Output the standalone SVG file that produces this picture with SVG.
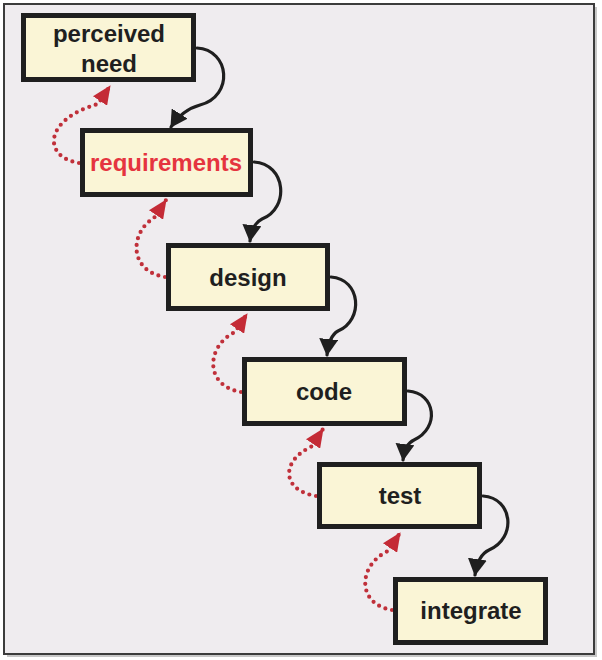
<svg xmlns="http://www.w3.org/2000/svg" width="602" height="660" viewBox="0 0 602 660">
  <style>
    .box { fill: #faf5d6; stroke: #1f1f1f; stroke-width: 5; }
    .lbl { font-family: "Liberation Sans", "DejaVu Sans", sans-serif; font-weight: bold; font-size: 24px; fill: #1f1f1f; text-anchor: middle; }
    .red { fill: #e5343f; }
    .fwd { fill: none; stroke: #1f1f1f; stroke-width: 3.2; stroke-linecap: round; marker-end: url(#blackHead); }
    .back { fill: none; stroke: #c0303a; stroke-width: 4.2; stroke-linecap: round; stroke-dasharray: 0 6.8; marker-end: url(#redHead); }
  </style>
  <defs>
    <marker id="blackHead" markerUnits="userSpaceOnUse" viewBox="0 0 17 19" refX="16" refY="9.5" markerWidth="17" markerHeight="19" orient="auto">
      <path d="M0,0 L17,9.5 L0,19 z" fill="#1f1f1f"/>
    </marker>
    <marker id="redHead" markerUnits="userSpaceOnUse" viewBox="0 0 19 17" refX="18" refY="8.5" markerWidth="19" markerHeight="17" orient="auto">
      <path d="M0,0 L19,8.5 L0,17 z" fill="#c42b36"/>
    </marker>
  </defs>

  <rect x="0" y="0" width="602" height="660" fill="#ffffff"/>
  <g id="frame">
    <rect x="7" y="7" width="590" height="650" fill="#c8c8c8"/>
    <rect x="4" y="4" width="590" height="650" fill="#efecef" stroke="#3c3c3c" stroke-width="2"/>
  </g>

  <g id="connectors">
    <path class="fwd" d="M197,48 C230,50 234,96 200,105 Q182,110 171,127"/>
    <path class="fwd" d="M254,162 C286,164 290,208 262,219 Q252,224 250,241"/>
    <path class="fwd" d="M331,277 C361,279 364,320 338,331 Q329,336 327,355"/>
    <path class="fwd" d="M408,391 C436,393 440,428 414,440 Q405,444 403,460"/>
    <path class="fwd" d="M483,496 C513,498 517,538 489,550 Q478,555 475,575"/>

    <path class="back" d="M79,163 C42,157 44,119 98,104 L110,86"/>
    <path class="back" d="M165,277 C128,271 130,232 154,218 L166,200"/>
    <path class="back" d="M241,392 C204,386 206,346 235,332 L247,314"/>
    <path class="back" d="M316,496 C280,490 282,460 311,447 L323,429"/>
    <path class="back" d="M392,610 C356,604 358,565 388,551 L400,533"/>
  </g>

  <g id="perceived-need">
    <rect class="box" x="23.5" y="15.5" width="170" height="64"/>
    <text class="lbl" x="109" y="42">perceived</text>
    <text class="lbl" x="109" y="72">need</text>
  </g>
  <g id="requirements">
    <rect class="box" x="82.5" y="130.5" width="168" height="64"/>
    <text class="lbl red" x="166" y="171">requirements</text>
  </g>
  <g id="design">
    <rect class="box" x="168.5" y="245.5" width="159" height="63"/>
    <text class="lbl" x="248" y="286">design</text>
  </g>
  <g id="code">
    <rect class="box" x="244.5" y="359.5" width="160" height="64"/>
    <text class="lbl" x="324" y="400">code</text>
  </g>
  <g id="test">
    <rect class="box" x="319.5" y="464.5" width="160" height="62"/>
    <text class="lbl" x="400" y="504">test</text>
  </g>
  <g id="integrate">
    <rect class="box" x="395.5" y="579.5" width="150" height="63"/>
    <text class="lbl" x="471" y="619">integrate</text>
  </g>
</svg>
